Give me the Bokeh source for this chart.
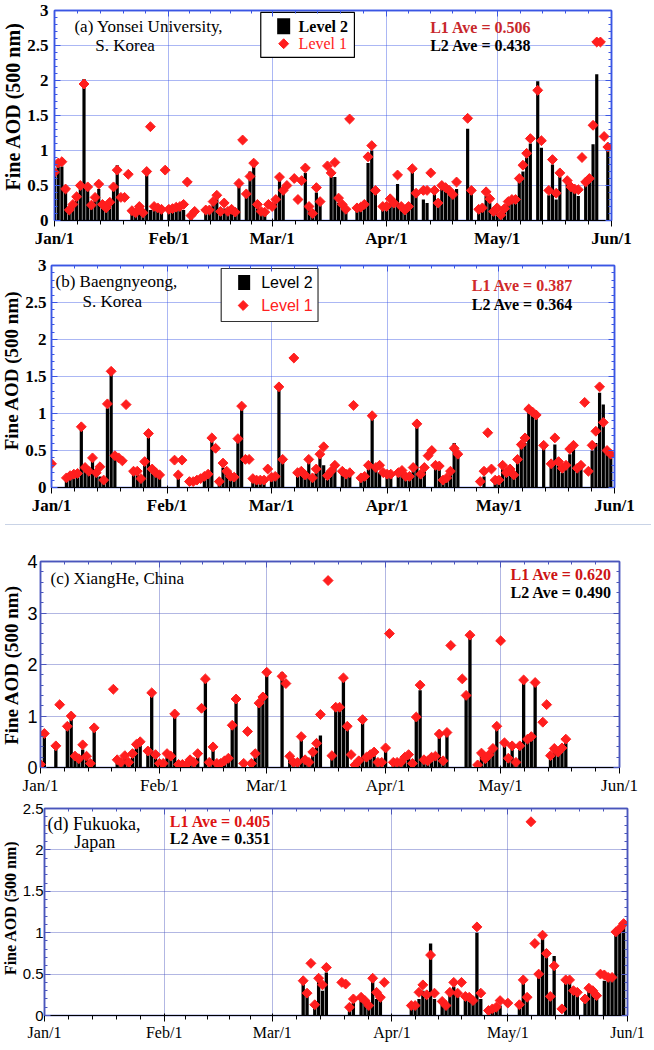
import numpy as np
from bokeh.plotting import figure
from bokeh.models import FixedTicker, LinearAxis, Range1d, Label, NumeralTickFormatter, Div
from bokeh.layouts import column, row
from bokeh.embed import file_html
from bokeh.resources import INLINE

SERIF = "Liberation Serif"
SANS = "Liberation Sans"
N = None

MONTH_DAYS = [0, 31, 59, 90, 120, 151]
MONTH_LABELS = ["Jan/1", "Feb/1", "Mar/1", "Apr/1", "May/1", "Jun/1"]

# (day of year from Jan/1, Level 1 fine AOD, Level 2 fine AOD)
yonsei = [
    (0, 0.69, 0.65), (1, 0.82, 0.77), (2, 0.84, 0.77), (3, 0.45, 0.40), (4, 0.15, 0.12), (5, 0.23, 0.20),
    (6, 0.34, 0.30), (7, 0.50, 0.45), (8, 1.95, 2.02), (9, 0.48, 0.45), (10, 0.22, 0.20), (11, 0.33, 0.30),
    (12, 0.52, 0.45), (13, 0.23, 0.20), (14, 0.18, 0.15), (15, 0.26, 0.22), (16, 0.48, 0.45), (17, 0.72, 0.79),
    (18, 0.33, N), (19, 0.33, N), (20, 0.66, N), (21, 0.14, 0.10), (22, 0.11, 0.10), (23, 0.20, 0.10),
    (24, 0.11, 0.10), (25, 0.70, 0.69), (26, 1.34, 0.15), (27, 0.20, 0.15), (28, 0.18, 0.14), (29, 0.16, 0.14),
    (30, 0.72, N), (31, 0.16, 0.12), (32, 0.17, 0.15), (33, 0.19, 0.16), (34, 0.20, 0.18), (35, 0.23, 0.15),
    (36, 0.55, N), (37, 0.07, 0.05), (38, 0.13, N), (41, 0.15, 0.13), (42, 0.15, 0.14), (43, 0.27, 0.25),
    (44, 0.36, 0.33), (45, 0.13, 0.12), (46, 0.25, 0.17), (47, 0.13, 0.12), (48, 0.16, 0.14), (49, 0.12, 0.10),
    (50, 0.53, 0.50), (51, 1.15, N), (52, 0.38, 0.35), (53, 0.63, 0.70), (54, 0.82, 0.80), (55, 0.23, 0.20),
    (56, 0.13, 0.12), (57, 0.12, 0.10), (58, 0.23, N), (59, 0.20, N), (60, 0.30, 0.25), (61, 0.62, 0.60),
    (62, 0.43, 0.40), (63, 0.50, N), (65, 0.60, N), (66, 0.30, N), (67, 0.57, N), (68, 0.75, 0.68),
    (69, 0.20, 0.15), (70, 0.10, 0.08), (71, 0.47, 0.40), (72, 0.27, 0.25), (74, 0.78, N), (75, 0.68, 0.62),
    (76, 0.83, 0.62), (77, 0.32, 0.25), (78, 0.23, 0.20), (79, 0.16, 0.12), (80, 1.45, N), (82, 0.18, 0.15),
    (83, 0.19, 0.16), (84, 0.23, 0.20), (85, 0.91, 0.82), (86, 1.07, 1.00), (87, 0.43, 0.40), (89, 0.20, 0.15),
    (90, 0.20, 0.15), (91, 0.31, 0.25), (92, 0.25, 0.20), (93, 0.65, 0.52), (94, 0.20, 0.15), (95, 0.15, 0.12),
    (96, 0.20, 0.15), (97, 0.74, 0.70), (98, 0.39, 0.35), (100, 0.43, 0.30), (101, 0.43, 0.25), (102, 0.68, N),
    (103, 0.43, 0.40), (104, 0.25, 0.20), (105, 0.50, 0.45), (106, 0.47, 0.45), (107, 0.43, 0.40), (108, 0.37, 0.35),
    (109, 0.55, 0.45), (112, 1.46, 1.31), (113, 0.43, 0.40), (115, 0.16, 0.12), (116, 0.18, 0.15), (117, 0.41, 0.35),
    (118, 0.31, 0.25), (119, 0.13, 0.10), (120, 0.18, 0.10), (121, 0.08, 0.05), (122, 0.17, 0.12), (123, 0.27, 0.25),
    (124, 0.30, 0.28), (125, 0.30, 0.27), (126, 0.60, 0.55), (127, 0.79, 0.70), (128, 0.96, 0.90), (129, 1.17, 1.10),
    (131, 1.86, 1.99), (132, 1.14, 1.04), (134, 0.43, 0.36), (135, 0.87, 0.80), (136, 0.39, 0.30), (137, 0.68, 0.62),
    (139, 0.57, 0.52), (140, 0.48, 0.45), (141, 0.45, 0.42), (142, 0.44, 0.35), (143, 0.90, N), (144, 0.55, 0.50),
    (145, 0.60, 0.55), (146, 1.36, 1.09), (147, 2.55, 2.09), (148, 2.55, N), (149, 1.20, N), (150, 1.05, 1.03),
]

baengnyeong = [
    (0, 0.32, N), (4, 0.13, 0.10), (5, 0.16, 0.13), (6, 0.18, 0.15), (7, 0.19, 0.17), (8, 0.82, 0.80),
    (9, 0.27, 0.25), (10, 0.22, 0.20), (11, 0.40, 0.37), (12, 0.20, 0.17), (13, 0.28, 0.15), (14, 0.10, 0.08),
    (15, 1.13, 1.07), (16, 1.57, 1.59), (17, 0.43, 0.42), (18, 0.40, N), (19, 0.36, N), (20, 1.12, N),
    (22, 0.22, 0.20), (23, 0.22, 0.18), (24, 0.12, 0.10), (25, 0.35, 0.30), (26, 0.73, 0.68), (27, 0.25, 0.22),
    (28, 0.20, 0.18), (29, 0.17, 0.15), (33, 0.37, N), (34, 0.17, 0.15), (35, 0.37, N), (37, 0.08, N),
    (38, 0.08, N), (39, 0.10, N), (40, 0.12, N), (41, 0.15, 0.10), (42, 0.18, 0.15), (43, 0.67, 0.62),
    (44, 0.53, N), (45, 0.08, 0.06), (46, 0.33, 0.27), (47, 0.22, 0.18), (48, 0.15, 0.12), (49, 0.14, 0.12),
    (50, 0.66, 0.62), (51, 1.10, 1.08), (52, 0.38, N), (53, 0.38, N), (54, 0.12, 0.10), (55, 0.10, 0.08),
    (56, 0.10, 0.08), (57, 0.10, 0.08), (58, 0.25, N), (59, 0.14, 0.12), (60, 0.15, 0.14), (61, 1.36, 1.35),
    (62, 0.38, 0.35), (65, 1.75, N), (66, 0.20, 0.18), (67, 0.22, 0.18), (68, 0.17, 0.15), (69, 0.38, 0.35),
    (70, 0.13, 0.10), (71, 0.25, 0.20), (72, 0.45, 0.42), (73, 0.55, 0.30), (74, 0.16, 0.10), (75, 0.22, 0.18),
    (76, 0.30, 0.25), (78, 0.22, 0.20), (79, 0.18, 0.15), (80, 0.20, 0.17), (81, 1.11, N), (83, 0.13, 0.10),
    (84, 0.15, 0.12), (85, 0.30, 0.27), (86, 0.97, 0.95), (87, 0.27, 0.25), (88, 0.30, 0.20), (89, 0.20, N),
    (90, 0.18, 0.15), (91, 0.18, 0.15), (93, 0.20, 0.15), (94, 0.23, 0.20), (95, 0.15, 0.12), (96, 0.15, 0.12),
    (97, 0.27, 0.22), (98, 0.86, 0.85), (99, 0.18, 0.15), (100, 0.27, 0.22), (101, 0.43, N), (102, 0.50, N),
    (103, 0.30, 0.25), (104, 0.29, 0.27), (105, 0.10, 0.08), (106, 0.13, 0.10), (107, 0.22, 0.20), (108, 0.53, 0.60),
    (109, 0.45, 0.45), (115, 0.08, N), (116, 0.22, 0.15), (117, 0.74, N), (118, 0.25, N), (119, 0.10, 0.07),
    (120, 0.10, 0.07), (121, 0.30, 0.25), (122, 0.20, 0.17), (123, 0.25, 0.22), (124, 0.17, 0.15), (125, 0.38, 0.35),
    (126, 0.58, 0.55), (127, 0.67, 0.60), (128, 1.06, 1.04), (129, 1.02, 1.00), (130, 0.98, 0.97), (132, 0.57, 0.57),
    (134, 0.32, 0.30), (135, 0.67, 0.58), (136, 0.35, 0.30), (137, 0.26, 0.20), (138, 0.30, 0.25), (139, 0.52, 0.45),
    (140, 0.57, 0.55), (141, 0.26, 0.25), (142, 0.30, 0.27), (143, 1.15, N), (144, 0.22, N), (145, 0.57, 0.50),
    (146, 0.76, 0.60), (147, 1.36, 1.28), (148, 0.88, 1.12), (149, 0.50, 0.50), (150, 0.45, 0.43),
]

xianghe = [
    (0, 0.06, N), (1, 0.66, 0.60), (4, 0.42, 0.40), (5, 1.22, N), (7, 0.80, 0.80), (8, 1.00, 0.98),
    (9, 0.22, 0.15), (10, 0.17, 0.12), (11, 0.44, 0.35), (12, 0.22, 0.20), (13, 0.08, 0.05), (14, 0.77, 0.75),
    (19, 1.52, N), (20, 0.15, 0.10), (21, 0.10, 0.08), (22, 0.23, 0.20), (23, 0.10, 0.07), (24, 0.27, 0.20),
    (25, 0.45, 0.40), (26, 0.50, 0.45), (28, 0.32, 0.30), (29, 1.45, 1.40), (30, 0.25, 0.20), (31, 0.08, 0.07),
    (32, 0.08, 0.07), (33, 0.27, 0.20), (34, 0.22, 0.20), (35, 1.04, 1.00), (36, 0.06, 0.05), (37, 0.06, 0.05),
    (38, 0.05, N), (39, 0.15, 0.10), (40, 0.10, 0.10), (41, 0.27, 0.22), (42, 1.15, N), (43, 1.72, 1.70),
    (44, 0.10, 0.08), (45, 0.40, 0.35), (46, 0.08, 0.05), (47, 0.08, 0.07), (48, 0.13, 0.10), (49, 0.18, 0.15),
    (50, 0.82, 0.80), (51, 1.33, 1.30), (53, 0.08, 0.05), (54, 0.70, N), (55, 0.08, 0.05), (56, 0.27, 0.20),
    (57, 1.25, 1.20), (58, 1.37, 1.35), (59, 1.85, 1.85), (63, 1.77, 1.85), (64, 1.63, N), (65, 0.22, 0.18),
    (66, 0.10, 0.08), (67, 0.10, 0.07), (68, 0.60, 0.55), (69, 0.15, 0.12), (70, 0.10, 0.08), (71, 0.30, 0.25),
    (72, 0.47, 0.40), (73, 1.03, 0.62), (75, 3.63, N), (76, 0.23, 0.20), (77, 1.17, 1.15), (78, 1.17, 1.15),
    (79, 1.74, 1.70), (80, 0.80, 0.75), (81, 0.25, N), (82, 0.05, 0.05), (83, 0.13, 0.10), (84, 0.93, 0.90),
    (85, 0.20, 0.17), (86, 0.25, 0.22), (87, 0.30, 0.25), (88, 0.10, 0.08), (89, 0.10, 0.07), (90, 0.38, 0.35),
    (91, 2.60, N), (92, 0.10, 0.07), (93, 0.10, 0.07), (94, 0.10, 0.07), (95, 0.20, 0.15), (96, 0.25, 0.22),
    (97, 0.08, 0.05), (98, 0.98, 1.00), (99, 1.60, 1.50), (100, 0.15, 0.12), (101, 0.13, 0.10), (102, 0.20, 0.15),
    (103, 0.22, 0.18), (104, 0.65, 0.72), (105, 0.13, 0.10), (106, 0.68, 0.72), (107, 2.37, N), (110, 1.72, N),
    (111, 1.40, 1.42), (112, 2.57, 2.55), (114, 0.05, 0.03), (115, 0.28, 0.22), (116, 0.17, 0.12), (117, 0.25, 0.22),
    (118, 0.37, 0.35), (119, 0.80, 0.80), (120, 2.46, N), (121, 0.48, 0.48), (122, 0.18, 0.15), (123, 0.42, 0.40),
    (124, 0.10, 0.08), (125, 0.42, 0.40), (126, 1.70, 1.70), (127, 0.55, 0.50), (128, 0.60, 0.60), (129, 1.65, 1.65),
    (131, 0.88, N), (132, 1.22, N), (133, 0.23, 0.20), (134, 0.37, 0.33), (135, 0.30, 0.28), (136, 0.38, 0.35),
    (137, 0.55, 0.50),
]

fukuoka = [
    (67, 0.42, 0.40), (68, 0.27, 0.25), (69, 0.63, N), (70, 0.13, 0.10), (71, 0.45, 0.45), (72, 0.37, 0.30),
    (73, 0.58, 0.52), (77, 0.40, N), (78, 0.38, N), (79, 0.10, 0.08), (80, 0.20, 0.15), (82, 0.22, 0.20),
    (83, 0.18, 0.15), (84, 0.12, 0.10), (85, 0.45, 0.42), (86, 0.28, 0.20), (87, 0.22, 0.20), (88, 0.40, N),
    (95, 0.12, 0.10), (96, 0.12, 0.10), (97, 0.28, 0.20), (98, 0.37, 0.30), (99, 0.25, 0.20), (100, 0.73, 0.87),
    (101, 0.27, 0.20), (103, 0.17, 0.15), (104, 0.12, 0.10), (105, 0.28, 0.25), (106, 0.40, 0.35), (107, 0.27, 0.25),
    (108, 0.40, N), (109, 0.23, 0.20), (110, 0.22, 0.20), (111, 0.18, 0.15), (112, 1.07, 1.00), (113, 0.27, 0.20),
    (115, 0.06, 0.05), (116, 0.08, 0.06), (117, 0.10, 0.08), (118, 0.18, 0.12), (120, 0.15, N), (123, 0.13, 0.10),
    (124, 0.43, 0.40), (125, 0.22, 0.20), (126, 2.34, N), (127, 0.87, N), (128, 0.50, 0.50), (129, 0.97, 0.93),
    (130, 0.75, 0.80), (131, 0.23, 0.20), (132, 0.60, 0.72), (134, 0.08, N), (135, 0.43, 0.40), (136, 0.43, 0.40),
    (137, 0.30, 0.28), (138, 0.28, 0.25), (140, 0.20, 0.15), (141, 0.33, 0.30), (142, 0.30, 0.28), (143, 0.24, 0.20),
    (144, 0.50, N), (145, 0.49, 0.42), (146, 0.46, 0.42), (147, 0.46, 0.44), (148, 1.01, 1.00), (149, 1.05, 1.05),
    (150, 1.11, 1.10),
]

X_MINOR = [s + k * (e - s) / 5.0 for s, e in zip(MONTH_DAYS[:-1], MONTH_DAYS[1:]) for k in range(1, 5)]

BLUE_AB = "#3a56e4"
BLUE_CD = "#4a56bc"
RED_PT = "#ff1e1e"
MARGIN = 8          # page margin
PAGE_R = 654        # right edge of the content (page px)
YLABEL = "Fine AOD (500 nm)"


def px2data(fr, px, py):
    x = (px - fr["l"]) / (fr["r"] - fr["l"]) * 151.0
    y = (fr["b"] - py) / (fr["b"] - fr["t"]) * fr["ymax"]
    return x, y


def add_text(p, fr, px, py, text, size, color="black", bold=False, font=SERIF, align="left"):
    x, y = px2data(fr, px, py)
    p.add_layout(Label(x=x, y=y, text=text, text_font=font, text_font_size=f"{size}px",
                       text_font_style="bold" if bold else "normal", text_color=color,
                       text_align=align, text_baseline="middle"))


def label_strip(x_right, fig_top, fig_bottom, cy, size):
    """Narrow figure (page x from MARGIN to x_right) holding the rotated y title, centred in the strip at page y cy."""
    w = x_right - MARGIN
    h = fig_bottom - fig_top
    f = figure(width=w, height=h, x_range=Range1d(0, w), y_range=Range1d(0, h),
               output_backend="svg", toolbar_location=None, min_border=0,
               x_axis_location=None, y_axis_location=None)
    f.outline_line_color = None
    f.grid.visible = False
    f.background_fill_color = "white"
    f.border_fill_color = "white"
    f.add_layout(Label(x=w / 2.0, y=fig_bottom - cy, text=YLABEL, angle=np.pi / 2,
                       text_align="center", text_baseline="middle", text_font=SERIF,
                       text_font_style="bold", text_font_size=f"{size}px", text_color="black"))
    return f


def make_panel(obs, fr, x0, fig_top, fig_bottom, ymajor, ystep_minor, color,
               ytick_font, ytick_bold, ytick_size, ytick_standoff, xtick_bold, xtick_size):
    p = figure(width=PAGE_R - x0, height=fig_bottom - fig_top,
               x_range=Range1d(0, 151), y_range=Range1d(0, fr["ymax"]),
               output_backend="svg", toolbar_location=None,
               min_border_left=fr["l"] - x0, min_border_right=PAGE_R - fr["r"],
               min_border_top=fr["t"] - fig_top, min_border_bottom=fig_bottom - fr["b"])
    p.outline_line_color = color
    p.outline_line_width = 1.5
    p.background_fill_color = "white"
    p.border_fill_color = "white"

    xt = FixedTicker(ticks=MONTH_DAYS, minor_ticks=X_MINOR)
    yminor = list(np.round(np.arange(0, fr["ymax"] + 1e-9, ystep_minor), 3))
    yt = FixedTicker(ticks=ymajor, minor_ticks=yminor)

    p.xaxis.ticker = xt
    p.xaxis.major_label_overrides = dict(zip(MONTH_DAYS, MONTH_LABELS))
    p.xaxis.major_label_text_font = SERIF
    p.xaxis.major_label_text_font_style = "bold" if xtick_bold else "normal"
    p.xaxis.major_label_text_font_size = f"{xtick_size}px"
    p.xaxis.major_label_text_color = "black"
    p.xaxis.major_label_standoff = 2

    p.yaxis.ticker = yt
    p.yaxis.formatter = NumeralTickFormatter(format="0.[0]")
    p.yaxis.major_label_text_font = ytick_font
    p.yaxis.major_label_text_font_style = "bold" if ytick_bold else "normal"
    p.yaxis.major_label_text_font_size = f"{ytick_size}px"
    p.yaxis.major_label_text_color = "black"
    p.yaxis.major_label_standoff = ytick_standoff

    top = LinearAxis(ticker=xt, major_label_text_font_size="0px", major_label_standoff=0,
                     major_label_overrides={d: "" for d in MONTH_DAYS})
    right = LinearAxis(ticker=yt, major_label_text_font_size="0px", major_label_standoff=0,
                       major_label_overrides={v: "" for v in ymajor})
    p.add_layout(top, "above")
    p.add_layout(right, "right")

    for ax in [p.xaxis[0], p.yaxis[0], top, right]:
        ax.axis_line_color = color
        ax.axis_line_width = 1.5
        ax.major_tick_line_color = color
        ax.minor_tick_line_color = color
        ax.major_tick_in = 6
        ax.major_tick_out = 0
        ax.minor_tick_in = 3
        ax.minor_tick_out = 0

    p.xgrid.ticker = xt
    p.ygrid.ticker = yt
    p.grid.grid_line_color = color
    p.grid.grid_line_dash = "1 1"
    p.grid.grid_line_alpha = 0.85
    p.grid.grid_line_width = 1

    d1 = [o[0] for o in obs]
    v1 = [o[1] for o in obs]
    d2 = [o[0] for o in obs if o[2] is not None]
    v2 = [o[2] for o in obs if o[2] is not None]
    p.vbar(x=d2, top=v2, width=0.86, bottom=0, fill_color="black", line_color=None)
    p.scatter(x=d1, y=v1, marker="square", angle=np.pi / 4, size=7,
              fill_color=RED_PT, line_color=RED_PT)
    return p


# ---------------- panel (a) ----------------  page y 8 -> 258
FA = dict(l=60, r=619, t=18, b=233, ymax=3)
la = label_strip(32, 8, 258, 122, 20)
pa = make_panel(yonsei, FA, 32, 8, 258, [0, 0.5, 1, 1.5, 2, 2.5, 3], 0.1, BLUE_AB,
                SERIF, True, 17, 6, True, 17)
lx0, ly0 = px2data(FA, 267, 66)
lx1, ly1 = px2data(FA, 361, 20)
pa.quad(left=[lx0], right=[lx1], bottom=[ly0], top=[ly1], fill_color="white", line_color="black", line_width=1.2)
sx, sy = px2data(FA, 290, 34)
pa.rect(x=[sx], y=[sy], width=13, height=16, width_units="screen", height_units="screen", fill_color="black", line_color=None)
sx, sy = px2data(FA, 290, 52)
pa.scatter(x=[sx], y=[sy], marker="square", angle=np.pi / 4, size=7, fill_color=RED_PT, line_color=RED_PT)
add_text(pa, FA, 305, 34, "Level 2", 16, bold=True)
add_text(pa, FA, 305, 52, "Level 1", 16, color="#ff2020")
add_text(pa, FA, 80, 34, "(a) Yonsei University,", 17)
add_text(pa, FA, 101, 54, "S. Korea", 17)
add_text(pa, FA, 437, 35, "L1 Ave = 0.506", 16, color="#c8282c", bold=True)
add_text(pa, FA, 437, 54, "L2 Ave = 0.438", 16, bold=True)

# ---------------- panel (b) ----------------  page y 258 -> 527
FB = dict(l=58, r=622, t=273, b=495, ymax=3)
lb = label_strip(30, 258, 527, 385, 19)
pb = make_panel(baengnyeong, FB, 30, 258, 527, [0, 0.5, 1, 1.5, 2, 2.5, 3], 0.1, BLUE_AB,
                SERIF, True, 17, 5, True, 17)
lx0, ly0 = px2data(FB, 228, 329)
lx1, ly1 = px2data(FB, 325, 276)
pb.quad(left=[lx0], right=[lx1], bottom=[ly0], top=[ly1], fill_color="white", line_color="#333333", line_width=1.2)
sx, sy = px2data(FB, 251, 290)
pb.rect(x=[sx], y=[sy], width=12, height=15, width_units="screen", height_units="screen", fill_color="black", line_color=None)
sx, sy = px2data(FB, 250, 313)
pb.scatter(x=[sx], y=[sy], marker="square", angle=np.pi / 4, size=7, fill_color=RED_PT, line_color=RED_PT)
add_text(pb, FB, 268, 290, "Level 2", 16, font=SANS)
add_text(pb, FB, 268, 313, "Level 1", 16, color="#ff2020", font=SANS)
add_text(pb, FB, 62, 289, "(b) Baengnyeong,", 17)
add_text(pb, FB, 89, 309, "S. Korea", 17)
add_text(pb, FB, 479, 293, "L1 Ave = 0.387", 16, color="#d02a2a", bold=True)
add_text(pb, FB, 479, 312, "L2 Ave = 0.364", 16, bold=True)

sep = Div(text="", width=PAGE_R - MARGIN, height=1, styles={"background-color": "#c9d3e6"})

# ---------------- panel (c) ----------------  page y 528 -> 795
FC = dict(l=48, r=627, t=559, b=773, ymax=4)
lc = label_strip(30, 528, 795, 662, 19)
pc = make_panel(xianghe, FC, 30, 528, 795, [0, 1, 2, 3, 4], 0.2, BLUE_CD,
                SANS, False, 18, 3, False, 17)
add_text(pc, FC, 58, 577, "(c) XiangHe, China", 17)
add_text(pc, FC, 518, 573, "L1 Ave = 0.620", 16, color="#cc1414", bold=True)
add_text(pc, FC, 518, 591, "L2 Ave = 0.490", 16, bold=True)

# ---------------- panel (d) ----------------  page y 795 -> 1041
FD = dict(l=49, r=635, t=806, b=1021, ymax=2.5)
ld = label_strip(27, 795, 1041, 913, 16)
pd_ = make_panel(fukuoka, FD, 27, 795, 1041, [0, 0.5, 1, 1.5, 2, 2.5], 0.1, BLUE_CD,
                 SANS, False, 15, 1, False, 16)
add_text(pd_, FD, 52, 822, "(d) Fukuoka,", 18)
add_text(pd_, FD, 79, 841, "Japan", 18)
add_text(pd_, FD, 175, 819, "L1 Ave = 0.405", 16, color="#dd1414", bold=True)
add_text(pd_, FD, 175, 837, "L2 Ave = 0.351", 16, bold=True)

layout = column(row(la, pa), row(lb, pb), sep, row(lc, pc), row(ld, pd_))
open("out.html", "w").write(file_html(layout, INLINE))
